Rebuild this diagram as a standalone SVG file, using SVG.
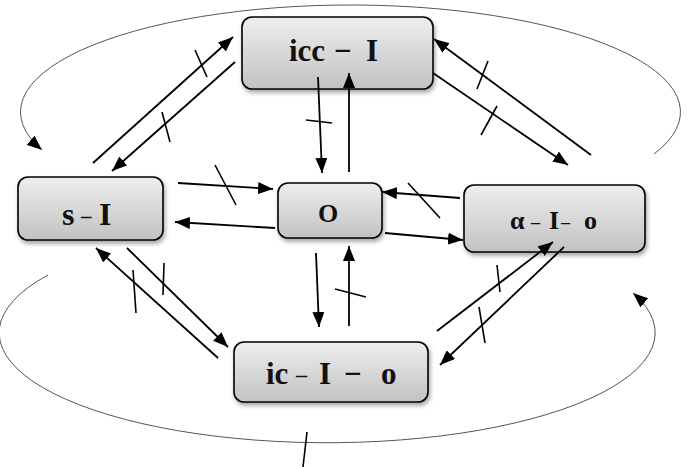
<svg xmlns="http://www.w3.org/2000/svg" width="691" height="467" viewBox="0 0 691 467">
<defs>
<linearGradient id="g" x1="0" y1="0" x2="0" y2="1">
<stop offset="0" stop-color="#eeeeee"/>
<stop offset="1" stop-color="#c2c2c2"/>
</linearGradient>
<filter id="sh" x="-10%" y="-10%" width="130%" height="140%">
<feDropShadow dx="1.5" dy="3" stdDeviation="2" flood-color="#000" flood-opacity="0.35"/>
</filter>
<marker id="ah" markerUnits="userSpaceOnUse" markerWidth="16" markerHeight="12" refX="15" refY="6" orient="auto">
<path d="M0,0 L15,6 L0,12 z" fill="#000"/>
</marker>
</defs>
<style>
.box{fill:url(#g);stroke:#000;stroke-width:1.6;filter:url(#sh)}
.lbl{font-family:"Liberation Serif","Times New Roman",serif;font-weight:bold;fill:#111}
.c{stroke:#000;stroke-width:1.8;fill:none;marker-end:url(#ah)}
.t{stroke:#000;stroke-width:1.6;fill:none}
.arca{stroke:#555;stroke-width:1;fill:none;marker-end:url(#ah)}
</style>
<g id="node-icc">
<rect class="box" x="242" y="17" width="191" height="72" rx="10"/>
<text class="lbl" y="61" font-size="31"><tspan x="289">icc</tspan><tspan x="334">−</tspan><tspan x="366">I</tspan></text>
</g>
<g id="node-s">
<rect class="box" x="18" y="177" width="145" height="63" rx="10"/>
<text class="lbl" y="225" font-size="32"><tspan x="62">s</tspan><tspan x="81" font-size="21" dy="-2">–</tspan><tspan x="99" dy="2">I</tspan></text>
</g>
<g id="node-o">
<rect class="box" x="278" y="183" width="104" height="55" rx="10"/>
<text class="lbl" x="328" y="222" font-size="26" text-anchor="middle">O</text>
</g>
<g id="node-alpha">
<rect class="box" x="464" y="185" width="181" height="67" rx="10"/>
<text class="lbl" y="229" font-size="26"><tspan x="510">α</tspan><tspan x="531" font-size="18" dy="-1">–</tspan><tspan x="549" dy="1">I</tspan><tspan x="561" font-size="18" dy="-1">–</tspan><tspan x="584" dy="1">o</tspan></text>
</g>
<g id="node-ic">
<rect class="box" x="234" y="342" width="194" height="60" rx="10"/>
<text class="lbl" y="384" font-size="31"><tspan x="266">ic</tspan><tspan x="296" font-size="22" dy="-2">–</tspan><tspan x="319" dy="2">I</tspan><tspan x="344">−</tspan><tspan x="381">o</tspan></text>
</g>
<g id="connectors">
<path class="arca" d="M654,154 A330,107 0 1 0 42,150"/>
<path class="arca" d="M48,275 A328,110 0 1 0 633,293"/>
<line class="t" x1="307" y1="432" x2="303" y2="467"/>
<line class="c" x1="93" y1="163" x2="233" y2="37"/>
<line class="t" x1="195" y1="50" x2="207" y2="77"/>
<line class="c" x1="235" y1="62" x2="112" y2="171"/>
<line class="t" x1="162" y1="112" x2="170" y2="142"/>
<line class="c" x1="591" y1="155" x2="434" y2="39"/>
<line class="t" x1="488" y1="61" x2="477" y2="89"/>
<line class="c" x1="433" y1="73" x2="568" y2="165"/>
<line class="t" x1="497" y1="106" x2="481" y2="135"/>
<line class="c" x1="318" y1="77" x2="322" y2="173"/>
<line class="t" x1="306" y1="120" x2="332" y2="123"/>
<line class="c" x1="349" y1="172" x2="349" y2="73"/>
<line class="c" x1="178" y1="183" x2="273" y2="189"/>
<line class="t" x1="215" y1="165" x2="236" y2="205"/>
<line class="c" x1="275" y1="228" x2="175" y2="222"/>
<line class="c" x1="460" y1="198" x2="382" y2="192"/>
<line class="t" x1="408" y1="183" x2="440" y2="218"/>
<line class="c" x1="385" y1="233" x2="463" y2="240"/>
<line class="c" x1="316" y1="253" x2="319" y2="327"/>
<line class="c" x1="349" y1="326" x2="349" y2="246"/>
<line class="t" x1="335" y1="289" x2="366" y2="297"/>
<line class="c" x1="218" y1="358" x2="96" y2="248"/>
<line class="t" x1="133" y1="270" x2="136" y2="313"/>
<line class="c" x1="127" y1="248" x2="228" y2="347"/>
<line class="t" x1="164" y1="263" x2="163" y2="295"/>
<line class="c" x1="437" y1="331" x2="553" y2="242"/>
<line class="t" x1="497" y1="265" x2="500" y2="292"/>
<line class="c" x1="564" y1="247" x2="440" y2="365"/>
<line class="t" x1="479" y1="307" x2="485" y2="343"/>
</g>
</svg>
